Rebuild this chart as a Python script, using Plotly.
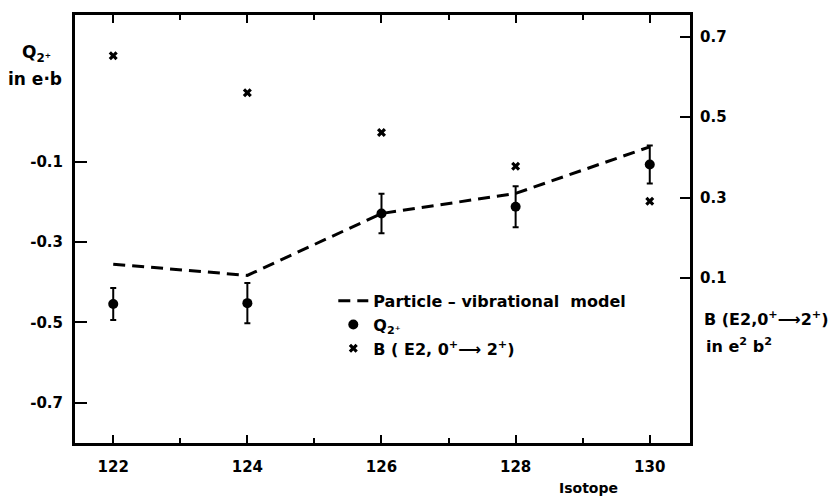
import plotly.graph_objects as go

isotopes = [122, 124, 126, 128, 130]
q2_values = [-0.454, -0.452, -0.229, -0.212, -0.107]
q2_errors = [0.040, 0.050, 0.049, 0.051, 0.047]
model_values = [-0.355, -0.383, -0.229, -0.179, -0.063]
be2_values = [0.653, 0.561, 0.462, 0.378, 0.291]

left_ticks = [-0.7, -0.5, -0.3, -0.1]
left_ticktext = ["-0.7", "-0.5", "-0.3", "-0.1"]
right_ticks = [0.1, 0.3, 0.5, 0.7]
x_ticks = [122, 124, 126, 128, 130]

FONT = "DejaVu Sans, Liberation Sans, Arial, sans-serif"

fig = go.Figure()
fig.add_trace(go.Scatter(
    x=isotopes, y=model_values, mode="lines",
    line=dict(color="black", width=3, dash="12px,7px"),
    name="Particle \u2013 vibrational  model",
))
fig.add_trace(go.Scatter(
    x=isotopes, y=q2_values, mode="markers",
    marker=dict(color="black", size=10),
    error_y=dict(type="data", array=q2_errors, color="black", thickness=2, width=3),
    name="Q<sub>2\u207a</sub>",
))
fig.add_trace(go.Scatter(
    x=isotopes, y=be2_values, mode="markers", yaxis="y2",
    marker=dict(symbol="x", color="black", size=8),
    name="B ( E2, 0<sup>+</sup>\u27f6 2<sup>+</sup>)",
))

ax_common = dict(showline=True, linewidth=3, linecolor="black", showgrid=False,
                 zeroline=False, tickcolor="black",
                 tickfont=dict(family=FONT, size=15, color="black", weight="bold"))

fig.update_layout(
    width=834, height=502,
    margin=dict(l=75, r=144, t=13, b=59),
    paper_bgcolor="white", plot_bgcolor="white",
    font=dict(family=FONT, color="black"),
    xaxis=dict(range=[121.43, 130.6], tickvals=x_ticks, ticks="inside", ticklen=8,
               tickwidth=2, mirror="ticks", ticklabelstandoff=8,
               minor=dict(dtick=1, tick0=122, ticks="inside", ticklen=5, tickwidth=1.5,
                          tickcolor="black", showgrid=False),
               **ax_common),
    yaxis=dict(range=[-0.80, 0.265], tickvals=left_ticks, ticktext=left_ticktext,
               ticks="inside", ticklen=12, tickwidth=2, ticklabelstandoff=6, **ax_common),
    yaxis2=dict(range=[-0.311, 0.7545], tickvals=right_ticks, overlaying="y", side="right",
                ticks="inside", ticklen=10, tickwidth=2, ticklabelstandoff=4, **ax_common),
    showlegend=True,
    legend=dict(x=0.42, y=0.372, xanchor="left", yanchor="top", bgcolor="rgba(0,0,0,0)",
                font=dict(family=FONT, size=16, color="black", weight="bold"), itemwidth=30,
                tracegroupgap=0),
    annotations=[
        dict(text="Q<sub>2\u207a</sub>", xref="paper", yref="paper", x=-0.063, y=0.909,
             xanchor="center", yanchor="middle",
             showarrow=False, font=dict(size=17, weight="bold")),
        dict(text="in e\u00b7b", xref="paper", yref="paper", x=-0.065, y=0.851,
             xanchor="center", yanchor="middle",
             showarrow=False, font=dict(size=17, weight="bold")),
        dict(text="B (E2,0<sup>+</sup>\u27f62<sup>+</sup>)", xref="paper", yref="paper",
             x=1.0195, y=0.291, xanchor="left", yanchor="middle", showarrow=False,
             font=dict(size=16, weight="bold")),
        dict(text="in e<sup>2</sup> b<sup>2</sup>", xref="paper", yref="paper",
             x=1.0228, y=0.228, xanchor="left", yanchor="middle", showarrow=False,
             font=dict(size=16, weight="bold")),
        dict(text="Isotope", xref="paper", yref="paper", x=0.835, y=-0.105,
             xanchor="center", yanchor="middle",
             showarrow=False, font=dict(size=14, weight="bold")),
    ],
)

fig.write_html("out.html")
